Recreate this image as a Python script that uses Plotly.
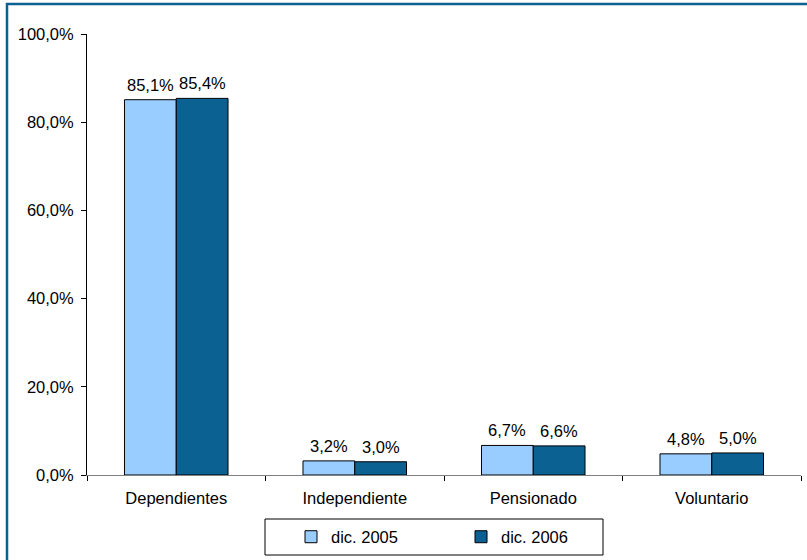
import plotly.graph_objects as go

categories = ["Dependientes", "Independiente", "Pensionado", "Voluntario"]
series_names = ["dic. 2005", "dic. 2006"]
values_2005 = [85.1, 3.2, 6.7, 4.8]
values_2006 = [85.4, 3.0, 6.6, 5.0]
tick_vals = [0, 20, 40, 60, 80, 100]
tick_text = [f"{v:.1f}%".replace(".", ",") for v in tick_vals]

colors = ["#99CCFF", "#0A6192"]
FONT = "Liberation Sans, Arial, sans-serif"
FS = 16.5

W, H = 807, 560
L, R, T, B = 87, 6, 34, 85
PW, PH = W - L - R, H - T - B
BARGAP = 0.42


def px_x(x):
    return (x - L) / PW


def px_y(y):
    return 1 - (y - T) / PH


fig = go.Figure()
for name, vals, col in zip(series_names, [values_2005, values_2006], colors):
    fig.add_trace(go.Bar(
        x=categories, y=vals, name=name,
        marker=dict(color=col, line=dict(color="black", width=1)),
        hoverinfo="skip",
    ))

# value labels as annotations above each bar
band = PW / len(categories)
bar_w = band * (1 - BARGAP) / 2
annotations = []
for si, vals in enumerate([values_2005, values_2006]):
    offset = (si - 0.5) * bar_w
    for cat, v in zip(categories, vals):
        annotations.append(dict(
            x=cat, y=v, xref="x", yref="y",
            text=f"{v:.1f}%".replace(".", ","),
            showarrow=False, xanchor="center", yanchor="bottom",
            xshift=offset, yshift=4,
            font=dict(family=FONT, size=FS, color="black"),
        ))

fig.update_layout(
    width=W, height=H,
    margin=dict(l=L, r=R, t=T, b=B, autoexpand=False),
    paper_bgcolor="white", plot_bgcolor="white",
    separators=",.",
    barmode="group", bargap=BARGAP, bargroupgap=0,
    font=dict(family=FONT, size=FS, color="black"),
    showlegend=True,
    annotations=annotations,
    legend=dict(
        orientation="h", x=px_x(291), xanchor="left", y=px_y(537), yanchor="middle",
        borderwidth=0, bgcolor="rgba(0,0,0,0)",
        font=dict(family=FONT, size=FS, color="black"),
        entrywidth=125, entrywidthmode="pixels",
        itemclick=False, itemdoubleclick=False,
    ),
    xaxis=dict(
        showline=True, linecolor="#808080", linewidth=1,
        ticks="outside", tickson="boundaries", ticklen=5, tickcolor="black",
        showgrid=False, automargin=False, ticklabelstandoff=8,
        tickfont=dict(family=FONT, size=FS, color="black"),
    ),
    yaxis=dict(
        range=[0, 100], tickvals=tick_vals, ticktext=tick_text,
        showline=True, linecolor="black", linewidth=1,
        ticks="outside", ticklen=5, tickcolor="black",
        showgrid=False, zeroline=False, automargin=False, ticklabelstandoff=4,
        tickfont=dict(family=FONT, size=FS, color="black"),
    ),
    shapes=[
        dict(
            type="rect", xref="paper", yref="paper",
            x0=px_x(7), x1=px_x(W + 20), y0=px_y(H + 20), y1=px_y(4),
            line=dict(color="#0A6192", width=2.5), fillcolor="rgba(0,0,0,0)",
            layer="above",
        ),
        dict(
            type="rect", xref="paper", yref="paper",
            x0=px_x(265), x1=px_x(603), y0=px_y(555), y1=px_y(519),
            line=dict(color="black", width=1), fillcolor="rgba(0,0,0,0)",
            layer="below",
        ),
    ],
)

fig.write_html("out.html", config={"displayModeBar": False})

with open("out.html", "r", encoding="utf-8") as f:
    html = f.read()
html = html.replace("<head>", "<head><style>html,body{margin:0;padding:0;overflow:hidden;}</style>", 1)
with open("out.html", "w", encoding="utf-8") as f:
    f.write(html)
